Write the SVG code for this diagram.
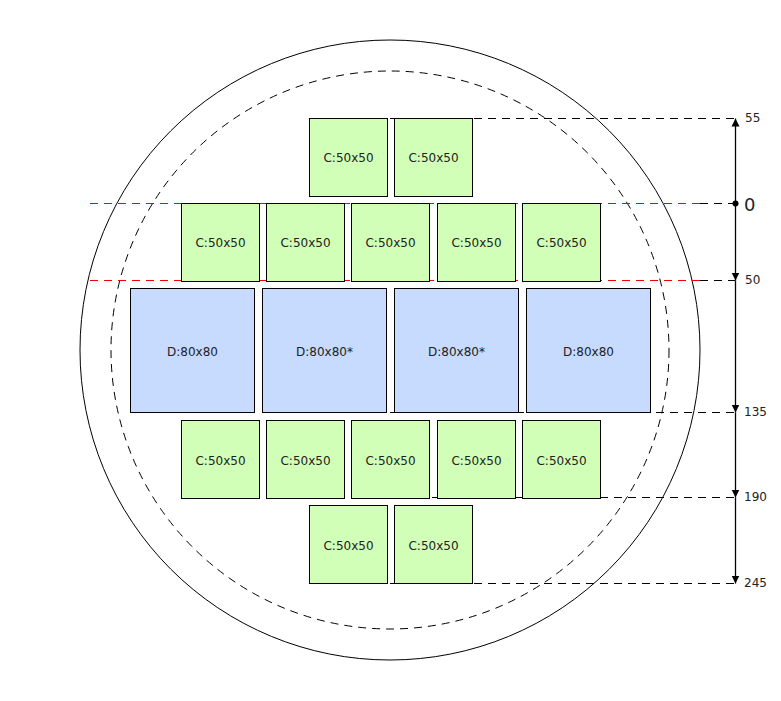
<svg xmlns="http://www.w3.org/2000/svg" width="781" height="701" viewBox="0 0 781 701">
<style>
.c{fill:#d1ffb8;stroke:#000;stroke-width:1}
.d{fill:#c6dbff;stroke:#000;stroke-width:1}
text{font-family:"DejaVu Sans",sans-serif;font-size:12px;fill:#222;text-anchor:middle;dominant-baseline:central}
.l{text-anchor:start}
.k{stroke:#000;stroke-dasharray:8,6;fill:none}
.r{stroke:#e00;stroke-dasharray:8,6;fill:none}
</style>
<defs>
<marker id="a" viewBox="0 0 10 10" refX="10" refY="5" markerWidth="8" markerHeight="10" orient="auto" markerUnits="userSpaceOnUse"><path d="M0,0L10,5L0,10z"/></marker>
</defs>
<rect width="781" height="701" fill="#fff"/>
<circle cx="390" cy="350" r="310" fill="none" stroke="#000"/>
<circle cx="390" cy="350" r="279" fill="none" stroke="#000" stroke-dasharray="8,6"/>
<g id="guides">
<line class="k" x1="390" y1="118.5" x2="735" y2="118.5"/>
<line class="r" x1="90" y1="203.5" x2="700" y2="203.5"/>
<line class="k" x1="700" y1="203.5" x2="735" y2="203.5"/>
<line class="r" x1="90" y1="280.5" x2="700" y2="280.5"/>
<line class="k" x1="700" y1="280.5" x2="735" y2="280.5"/>
<line class="k" x1="390" y1="412.5" x2="735" y2="412.5"/>
<line class="k" x1="390" y1="497.5" x2="735" y2="497.5"/>
<line class="k" x1="390" y1="583.5" x2="735" y2="583.5"/>
</g>
<g id="n1"><rect class="c" x="309.5" y="118.5" width="78" height="78"/><text x="348.5" y="158">C:50x50</text></g>
<g id="n2"><rect class="c" x="394.5" y="118.5" width="78" height="78"/><text x="433.5" y="158">C:50x50</text></g>
<g id="n3"><rect class="c" x="181.5" y="203.5" width="78" height="78"/><text x="220.5" y="243">C:50x50</text></g>
<g id="n4"><rect class="c" x="266.5" y="203.5" width="78" height="78"/><text x="305.5" y="243">C:50x50</text></g>
<g id="n5"><rect class="c" x="351.5" y="203.5" width="78" height="78"/><text x="390.5" y="243">C:50x50</text></g>
<g id="n6"><rect class="c" x="437.5" y="203.5" width="78" height="78"/><text x="476.5" y="243">C:50x50</text></g>
<g id="n7"><rect class="c" x="522.5" y="203.5" width="78" height="78"/><text x="561.5" y="243">C:50x50</text></g>
<g id="n8"><rect class="d" x="130.5" y="288.5" width="124" height="124"/><text x="192.5" y="352">D:80x80</text></g>
<g id="n9"><rect class="d" x="262.5" y="288.5" width="124" height="124"/><text x="324.5" y="352">D:80x80*</text></g>
<g id="n10"><rect class="d" x="394.5" y="288.5" width="124" height="124"/><text x="456.5" y="352">D:80x80*</text></g>
<g id="n11"><rect class="d" x="526.5" y="288.5" width="124" height="124"/><text x="588.5" y="352">D:80x80</text></g>
<g id="n12"><rect class="c" x="181.5" y="420.5" width="78" height="78"/><text x="220.5" y="461">C:50x50</text></g>
<g id="n13"><rect class="c" x="266.5" y="420.5" width="78" height="78"/><text x="305.5" y="461">C:50x50</text></g>
<g id="n14"><rect class="c" x="351.5" y="420.5" width="78" height="78"/><text x="390.5" y="461">C:50x50</text></g>
<g id="n15"><rect class="c" x="437.5" y="420.5" width="78" height="78"/><text x="476.5" y="461">C:50x50</text></g>
<g id="n16"><rect class="c" x="522.5" y="420.5" width="78" height="78"/><text x="561.5" y="461">C:50x50</text></g>
<g id="n17"><rect class="c" x="309.5" y="505.5" width="78" height="78"/><text x="348.5" y="546">C:50x50</text></g>
<g id="n18"><rect class="c" x="394.5" y="505.5" width="78" height="78"/><text x="433.5" y="546">C:50x50</text></g>
<g id="connectors" stroke="#000" stroke-width="1.3">
<line x1="735.5" y1="203.5" x2="735.5" y2="118.5" marker-end="url(#a)"/>
<line x1="735.5" y1="203.5" x2="735.5" y2="280.5" marker-end="url(#a)"/>
<line x1="735.5" y1="280.5" x2="735.5" y2="412.5" marker-end="url(#a)"/>
<line x1="735.5" y1="412.5" x2="735.5" y2="497.5" marker-end="url(#a)"/>
<line x1="735.5" y1="497.5" x2="735.5" y2="583.5" marker-end="url(#a)"/>
<circle cx="735.5" cy="203.5" r="3" fill="#000" stroke="none"/>
</g>
<g id="labels">
<text class="l" x="745" y="118">55</text>
<text class="l" x="744" y="204" style="font-size:18px">0</text>
<text class="l" x="745" y="280">50</text>
<text class="l" x="744" y="412">135</text>
<text class="l" x="744" y="497">190</text>
<text class="l" x="744" y="583">245</text>
</g>
</svg>
